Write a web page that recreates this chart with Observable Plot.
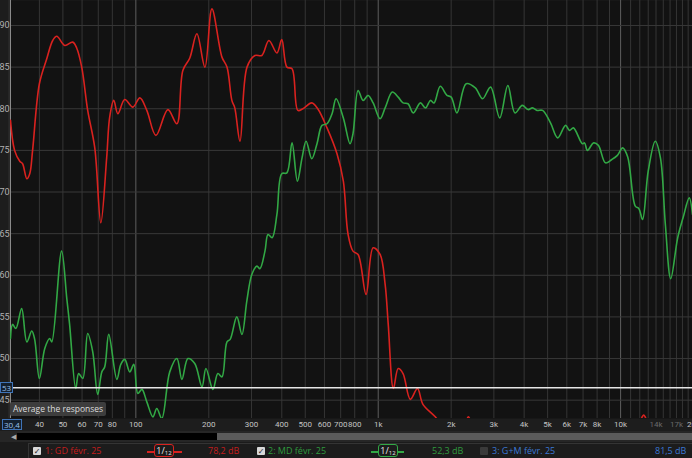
<!DOCTYPE html>
<html><head><meta charset="utf-8">
<script src="https://cdn.jsdelivr.net/npm/d3@7"></script>
<script src="https://cdn.jsdelivr.net/npm/@observablehq/plot@0.6"></script>
<style>
html,body{margin:0;padding:0;background:#1b1b1b;width:692px;height:458px;overflow:hidden;font-family:"Open Sans","DejaVu Sans",sans-serif}
#wrap{position:relative;width:692px;height:458px}
#chart svg{display:block}
.abs{position:absolute;white-space:nowrap}
#tooltip{left:10px;top:402px;height:14px;line-height:14px;padding:0 3px;background:#3d3d3d;color:#dcdcdc;font-size:8.5px;border-radius:2px}
.cur{border:1px solid #3f74b8;background:#14202e;color:#9cc0ea;font-size:8px;line-height:9px;height:9px;padding:0 1px}
#scrollrow{left:0;top:431px;width:692px;height:11px;background:#262626}
#sbar{left:17px;top:433px;width:200px;height:7px;background:#000}
#sgray{left:217px;top:433px;width:475px;height:7px;background:#5b5b5b}
#arrow{left:11px;top:431px;color:#aaa;font-size:7px;line-height:11px}
#legrow{left:0;top:442px;width:692px;height:16px;background:#1b1b1b}
#legbox{left:28px;top:443px;width:670px;height:16px;border:1px solid #343434;border-right:none;border-bottom:none;background:#1c1c1c}
.cb{width:8px;height:8px;top:447px;background:#d8d8d8;border-radius:1px;color:#222;font-size:8px;line-height:8px;text-align:center;font-weight:bold}
.cb.off{background:#3a3a3a}
.lt{top:445px;font-size:9px;line-height:12px}
.symline{top:451px;height:1.5px}
.symbox{top:444px;height:11px;border:1.5px solid;border-radius:3px;background:#1c1c1c;color:#e6e6e6;font-size:9px;line-height:11px;text-align:center}
.symbox sub{font-size:6px;vertical-align:-1px}
</style></head><body>
<div id="wrap">
<div id="chart"></div>
</div>
<script>
// Frequency responses (Hz, dB)
const gdFreq = [30.4,31.6,33.2,34.1,35.5,36.5,37.5,40,42.9,45.4,47.2,50.9,54.9,57,59.8,63.3,67.7,71.7,75.8,78,81.1,84.3,90,97.2,103.9,111,121,135.6,147.7,156.3,167,178.6,192.8,206,226.6,237.7,249,256,269,287.5,310,331,354,382,400,420,441,466,489,532,563,615,676,718,751,787,826,891,953,1018,1068,1100,1155,1209,1266,1356,1452,1529,1719,1850,2050,2250,2355,2470,2800,4000,6000,9000,11300,12100,12450,12800,13600,16000,19800];
const gdDb   = [78.6,75.0,73.7,73.4,71.6,72.2,75.0,83,86,88.2,88.7,87.6,88.0,87.3,85,79.8,75.3,66.3,74.1,79,81,79.4,81.1,80.2,81.3,79.8,76.8,79.9,78.2,84.6,86.1,89,85,92,86.2,85,81,80.1,76.1,85,86.4,86.4,88.2,86.7,88.3,85,84.8,79.8,80,80.7,80,77.7,74.6,71.3,64.9,62.9,62.5,57.7,63.3,62.5,58.9,54.1,46.4,48.8,48.2,45.1,46.4,44.5,43.0,41.8,40.6,41.6,43.0,41.6,39.5,37.5,36.5,37.5,40.5,42.6,43.2,42.6,39.8,36.5,35.5];

const mdFreq = [30.4,31,32,33.8,35.5,37.2,38.2,40,42.1,44.1,45,49.4,51.9,53.3,56.5,58.1,60.4,63.3,66.4,69.6,72.4,74.4,77.3,83.5,86.7,90,94.4,98.1,101.9,105.9,111,117.6,122,128,138,147.7,154.9,164,175,187.5,194.6,208,218,226.6,237.7,245,261,274,287,301,316,325,341,351,365,382,400,420,441,464,485,504,532,559,586,615,645,670,718,765,787,826,866,909,953,1018,1068,1143,1209,1266,1328,1394,1493,1566,1643,1700,1803,1921,2000,2113,2305,2516,2694,2908,3171,3427,3665,3929,4150,4330,4525,4766,5139,5500,5930,6150,6388,6950,7100,7298,7740,8100,8660,9200,9700,10200,10700,11500,11900,12320,13000,13900,14600,15300,16100,17200,18100,19200,19800];
const mdDb   = [52.4,54.1,53.6,56.0,52.0,53.3,52.4,47.6,51.2,52.4,52.0,62.9,57.2,54.1,46.4,48.2,47.6,53.0,50.8,45.7,48.4,49.0,52.9,47.5,49.3,49.9,48.4,49.3,45.8,46.3,44.8,43.0,44.0,42.8,48.4,50.0,47.5,50.0,49.4,46.6,48.8,46.3,48.2,47.8,52.0,52.3,55.0,52.9,56.9,60.1,61.1,60.8,62.9,64.9,64.5,67.3,72.2,72.3,75.9,71.3,74.1,76.1,74.0,75.8,78.0,78.2,79.4,81.2,78.9,75.8,77.0,82.2,81.0,81.6,80.7,78.8,80.1,82.0,81.4,80.7,80.6,79.5,80.7,80.1,81.0,80.7,82.7,81.6,81.4,79.5,83.0,82.5,81.2,82.6,78.9,82.8,79.5,80.4,79.9,80.1,79.8,79.8,78.3,76.5,78.0,77.4,77.7,75.8,75.9,75.0,75.9,75.6,73.5,73.9,74.4,75.3,74.2,68.3,68.0,66.7,72.5,76.1,74.1,66.1,59.6,64.5,66.9,69.3,67.3];

const xTicks = [40,50,60,70,80,100,200,300,400,500,600,700,800,1000,2000,3000,4000,5000,6000,7000,8000,10000,20000];
const xTicksDim = [14000,17000];
const yTicks = [45,50,55,60,65,70,75,80,85,90];
const gridMinor = [30,40,50,60,70,80,90,200,300,400,500,600,700,800,900,2000,3000,4000,5000,6000,7000,8000,9000,11000,12000,13000,14000,15000,16000,17000,18000,19000];
const gridMajor = [100,1000,10000];
const cursorDb = 46.5;

const gd = gdFreq.map((f,i)=>({f, db: gdDb[i]}));
const md = mdFreq.map((f,i)=>({f, db: mdDb[i]}));
const fmt = d => d >= 1000 ? (d/1000) + "k" : String(d);

const chart = Plot.plot({
  width: 692, height: 431,
  marginLeft: 10, marginRight: 0, marginTop: 0, marginBottom: 13,
  style: {background: "#1d1d1d", color: "#b4b4b4", fontSize: "9px", fontFamily: "Roboto,'Open Sans','DejaVu Sans',sans-serif"},
  x: {type: "log", domain: [30.4, 19800], axis: null},
  y: {domain: [42.8, 93]},
  marks: [
    Plot.frame({fill: "#121212"}),
    Plot.ruleX(gridMinor, {stroke: "#353535", strokeWidth: 1}),
    Plot.ruleX(gridMajor, {stroke: "#5e5e5e", strokeWidth: 1}),
    Plot.ruleY(yTicks, {stroke: "#383838", strokeWidth: 1}),
    Plot.ruleX([30.4], {stroke: "#8a8a8a", strokeWidth: 1}),
    Plot.line(gd, {x: "f", y: "db", stroke: "#d9221f", strokeWidth: 1.6, curve: "catmull-rom", clip: true}),
    Plot.line(md, {x: "f", y: "db", stroke: "#32a845", strokeWidth: 1.6, curve: "catmull-rom", clip: true}),
    Plot.ruleY([cursorDb], {stroke: "#e6e6e6", strokeWidth: 1.4}),
    Plot.text(xTicks, {x: d => d, frameAnchor: "bottom", dy: 8, text: fmt, fill: "#c4c4c4", fontSize: 8}),
    Plot.text(xTicksDim, {x: d => d, frameAnchor: "bottom", dy: 8, text: fmt, fill: "#6a6a6a", fontSize: 8}),
    Plot.axisY({ticks: yTicks, tickSize: 0, tickPadding: 1, label: null, fill: "#b0b0b0"})
  ]
});
const wrap = document.getElementById("wrap");
document.getElementById("chart").append(chart);

function add(html){ wrap.insertAdjacentHTML("beforeend", html); }
add('<div class="abs" id="tooltip">Average the responses</div>');
add('<div class="abs cur" style="left:0px;top:382px">53</div>');
add('<div class="abs cur" style="left:2px;top:419px">30,4</div>');
add('<div class="abs" id="scrollrow"></div><div class="abs" id="sbar"></div><div class="abs" id="sgray"></div><div class="abs" id="arrow">◀</div>');
add('<div class="abs" id="legrow"></div><div class="abs" id="legbox"></div>');
// legend entries
add('<div class="abs cb" style="left:33px">✓</div>');
add('<div class="abs lt" style="left:45px;color:#c41c1c">1: GD févr. 25</div>');
add('<div class="abs symline" style="left:147px;width:35px;background:#d9221f"></div>');
add('<div class="abs symbox" style="left:154px;width:18px;border-color:#d9221f">1/<sub>12</sub></div>');
add('<div class="abs lt" style="left:208px;color:#c41c1c">78,2 dB</div>');
add('<div class="abs cb" style="left:257px">✓</div>');
add('<div class="abs lt" style="left:268px;color:#2f9a3e">2: MD févr. 25</div>');
add('<div class="abs symline" style="left:371px;width:33px;background:#32a845"></div>');
add('<div class="abs symbox" style="left:378px;width:18px;border-color:#32a845">1/<sub>12</sub></div>');
add('<div class="abs lt" style="left:432px;color:#2f9a3e">52,3 dB</div>');
add('<div class="abs cb off" style="left:480px"></div>');
add('<div class="abs lt" style="left:492px;color:#3b78d4">3: G+M févr. 25</div>');
add('<div class="abs lt" style="left:655px;color:#3b78d4">81,5 dB</div>');
</script>
</body></html>
